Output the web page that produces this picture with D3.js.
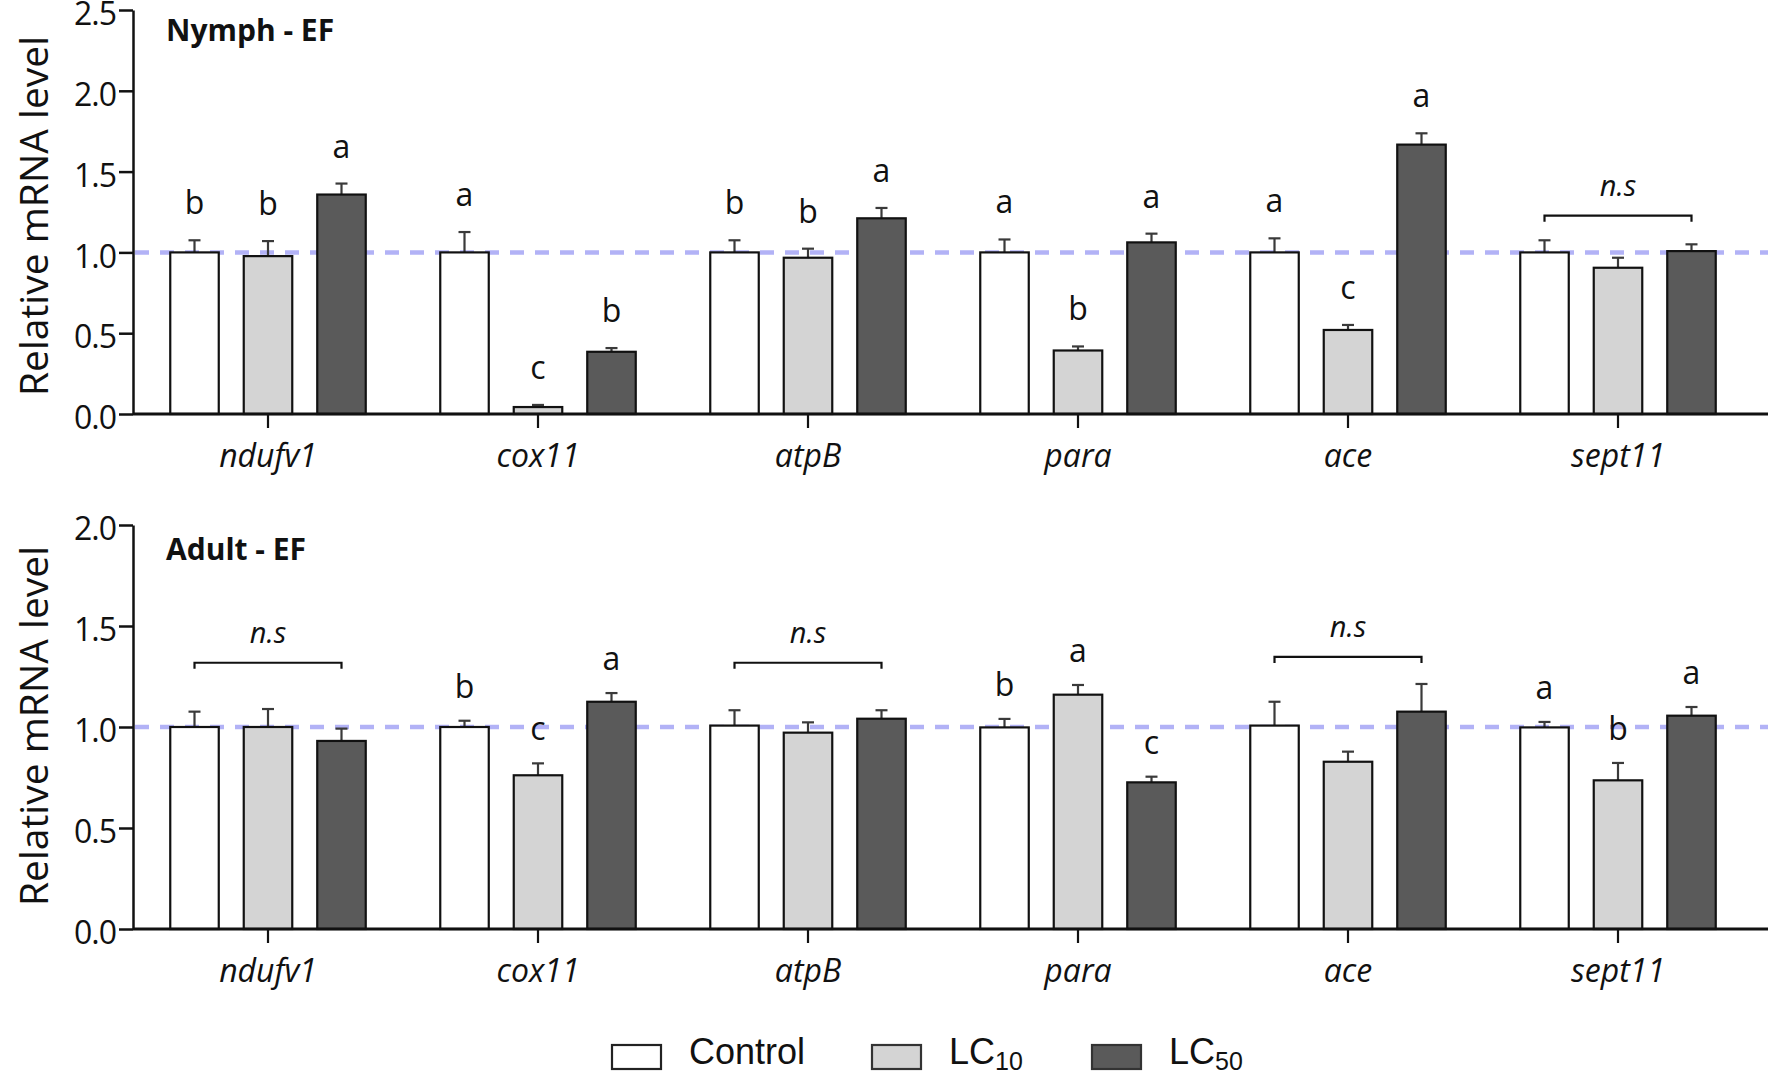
<!DOCTYPE html>
<html><head><meta charset="utf-8">
<script src="https://cdn.jsdelivr.net/npm/d3@7"></script>
<style>body{margin:0;background:#fff}svg{display:block}</style>
</head><body>
<svg id="chart" width="1772" height="1076"></svg>
<script>
// ---------- data ----------
const genes = ["ndufv1", "cox11", "atpB", "para", "ace", "sept11"];
const series = ["Control", "LC10", "LC50"];
const yTicksNymph = [0, 0.5, 1.0, 1.5, 2.0, 2.5];
const yTicksAdult = [0, 0.5, 1.0, 1.5, 2.0];

const nymphControl = [1.00, 1.00, 1.00, 1.00, 1.00, 1.00];
const nymphLC10    = [0.977, 0.043, 0.967, 0.393, 0.520, 0.905];
const nymphLC50    = [1.358, 0.385, 1.211, 1.062, 1.667, 1.008];
const nymphControlErr = [0.075, 0.126, 0.075, 0.080, 0.087, 0.075];
const nymphLC10Err    = [0.093, 0.013, 0.056, 0.025, 0.031, 0.062];
const nymphLC50Err    = [0.068, 0.023, 0.064, 0.054, 0.070, 0.042];
const nymphLetters = [["b","b","a"], ["a","c","b"], ["b","b","a"], ["a","b","a"], ["a","c","a"], null];
const nymphNS = [null, null, null, null, null, 1.227];

const adultControl = [1.00, 1.00, 1.007, 0.998, 1.007, 0.998];
const adultLC10    = [1.00, 0.761, 0.972, 1.160, 0.828, 0.736];
const adultLC50    = [0.931, 1.125, 1.041, 0.726, 1.076, 1.056];
const adultControlErr = [0.076, 0.031, 0.076, 0.042, 0.118, 0.027];
const adultLC10Err    = [0.089, 0.059, 0.051, 0.048, 0.050, 0.086];
const adultLC50Err    = [0.061, 0.043, 0.042, 0.028, 0.137, 0.043];
const adultLetters = [null, ["b","c","a"], null, ["b","a","c"], null, ["a","b","a"]];
const adultNS = [1.318, null, 1.318, null, 1.347, null];

const legendMain = ["Control", "LC", "LC"];
const legendSub  = ["", "10", "50"];

// ---------- styles ----------
const fills = {Control: "#ffffff", LC10: "#d4d4d4", LC50: "#5a5a5a"};
const svg = d3.select("#chart");
const FONT = "'Open Sans', 'Noto Sans', sans-serif";

const x = d3.scaleBand().domain(genes).range([133, 1753]).padding(0);
const xSub = d3.scaleBand().domain(series).range([-97.75, 97.75]).paddingInner(0.34).paddingOuter(0);

function panel(opts) {
  const y = d3.scaleLinear().domain(opts.domain).range(opts.range);
  const g = svg.append("g");
  const vals = [opts.c, opts.l10, opts.l50];
  const errs = [opts.ce, opts.l10e, opts.l50e];
  const rows = [];
  genes.forEach((gene, i) => series.forEach((s, j) => rows.push({gene, s, i, j, v: vals[j][i], e: errs[j][i]})));

  // reference dashed line at 1.0
  g.append("line")
    .attr("x1", 135).attr("x2", 1768)
    .attr("y1", y(1)).attr("y2", y(1))
    .attr("stroke", "#b2b2f6").attr("stroke-width", 4.5)
    .attr("stroke-dasharray", "14,11");

  const cx = d => x(d.gene) + x.bandwidth() / 2 + xSub(d.s) + xSub.bandwidth() / 2;

  // error bars (upper only)
  const eb = g.append("g").attr("stroke", "#3a3a3a").attr("stroke-width", 2.2);
  eb.selectAll("line.v").data(rows).join("line").attr("class", "v")
    .attr("x1", cx).attr("x2", cx).attr("y1", d => y(d.v)).attr("y2", d => y(d.v + d.e));
  eb.selectAll("line.c").data(rows).join("line").attr("class", "c")
    .attr("x1", d => cx(d) - 6).attr("x2", d => cx(d) + 6)
    .attr("y1", d => y(d.v + d.e)).attr("y2", d => y(d.v + d.e));

  // bars
  g.selectAll("rect.bar").data(rows).join("rect").attr("class", "bar")
    .attr("x", d => x(d.gene) + x.bandwidth() / 2 + xSub(d.s))
    .attr("width", xSub.bandwidth())
    .attr("y", d => y(d.v))
    .attr("height", d => y(0) - y(d.v))
    .attr("fill", d => fills[d.s])
    .attr("stroke", "#111").attr("stroke-width", 2.2);

  // significance letters
  const letterRows = rows.filter(d => opts.letters[d.i]);
  g.selectAll("text.let").data(letterRows).join("text").attr("class", "let")
    .attr("x", cx).attr("y", d => y(d.v + d.e) - opts.letterGap)
    .attr("text-anchor", "middle")
    .attr("font-family", FONT).attr("font-size", 32).attr("fill", "#111")
    .text(d => opts.letters[d.i][d.j]);

  // n.s brackets
  const nsRows = genes.map((gene, i) => ({gene, i, lv: opts.ns[i]})).filter(d => d.lv != null);
  const x1 = d => x(d.gene) + x.bandwidth() / 2 + xSub("Control") + xSub.bandwidth() / 2;
  const x2 = d => x(d.gene) + x.bandwidth() / 2 + xSub("LC50") + xSub.bandwidth() / 2;
  g.selectAll("path.br").data(nsRows).join("path").attr("class", "br")
    .attr("d", d => `M${x1(d)},${y(d.lv) + 6}V${y(d.lv)}H${x2(d)}V${y(d.lv) + 6}`)
    .attr("fill", "none").attr("stroke", "#111").attr("stroke-width", 2.2);
  g.selectAll("text.ns").data(nsRows).join("text").attr("class", "ns")
    .attr("x", d => (x1(d) + x2(d)) / 2).attr("y", d => y(d.lv) - 20)
    .attr("text-anchor", "middle").attr("font-style", "italic")
    .attr("font-family", FONT).attr("font-size", 29).attr("fill", "#111")
    .text("n.s");

  // y axis
  const ya = g.append("g").attr("transform", "translate(133,0)")
    .call(d3.axisLeft(y).tickValues(opts.ticks).tickFormat(d3.format(".1f")).tickSize(14).tickSizeOuter(0).tickPadding(3));
  ya.select(".domain").attr("stroke", "#111").attr("stroke-width", 2.5);
  ya.selectAll(".tick line").attr("stroke", "#111").attr("stroke-width", 2.5);
  ya.selectAll(".tick text").attr("font-family", FONT).attr("font-size", 32).attr("fill", "#111")
    .attr("dy", "0.46em").attr("letter-spacing", "-1px");

  // x axis
  const xa = g.append("g").attr("transform", `translate(0,${y(0)})`)
    .call(d3.axisBottom(x).tickSize(14).tickSizeOuter(0).tickPadding(16));
  xa.select(".domain").attr("d", `M133,0H1768`).attr("stroke", "#111").attr("stroke-width", 2.8);
  xa.selectAll(".tick line").attr("stroke", "#111").attr("stroke-width", 2.2);
  xa.selectAll(".tick text").attr("font-family", FONT).attr("font-size", 32)
    .attr("font-style", "italic").attr("fill", "#111");

  // y title
  g.append("text")
    .attr("transform", `translate(32,${opts.titleY}) rotate(-90)`)
    .attr("text-anchor", "middle").attr("dominant-baseline", "central")
    .attr("font-family", FONT).attr("font-size", 39).attr("fill", "#111")
    .text("Relative mRNA level");

  // panel title
  g.append("text").attr("x", 166).attr("y", opts.labelY)
    .attr("font-family", FONT).attr("font-size", 30).attr("font-weight", "bold").attr("fill", "#111")
    .text(opts.label);
}

panel({domain: [0, 2.5], range: [414, 10], ticks: yTicksNymph,
  c: nymphControl, l10: nymphLC10, l50: nymphLC50,
  ce: nymphControlErr, l10e: nymphLC10Err, l50e: nymphLC50Err,
  letters: nymphLetters, ns: nymphNS, letterGap: 26, titleY: 216, labelY: 41, label: "Nymph - EF"});

panel({domain: [0, 2.0], range: [929, 525], ticks: yTicksAdult,
  c: adultControl, l10: adultLC10, l50: adultLC50,
  ce: adultControlErr, l10e: adultLC10Err, l50e: adultLC50Err,
  letters: adultLetters, ns: adultNS, letterGap: 23, titleY: 726, labelY: 560, label: "Adult - EF"});

// legend
const legX = [612, 872, 1092];
const lg = svg.append("g");
series.forEach((s, i) => {
  lg.append("rect").attr("x", legX[i]).attr("y", 1045).attr("width", 49).attr("height", 24)
    .attr("fill", fills[s]).attr("stroke", i === 0 ? "#222" : "#333").attr("stroke-width", 2.2);
  const t = lg.append("text").attr("x", legX[i] + 77).attr("y", 1064)
    .attr("font-family", "'Liberation Sans', Arial, sans-serif").attr("font-size", 36).attr("fill", "#111");
  t.append("tspan").text(legendMain[i]);
  if (legendSub[i]) t.append("tspan").attr("font-size", 25).attr("dy", 6).text(legendSub[i]);
});
</script>
</body></html>
